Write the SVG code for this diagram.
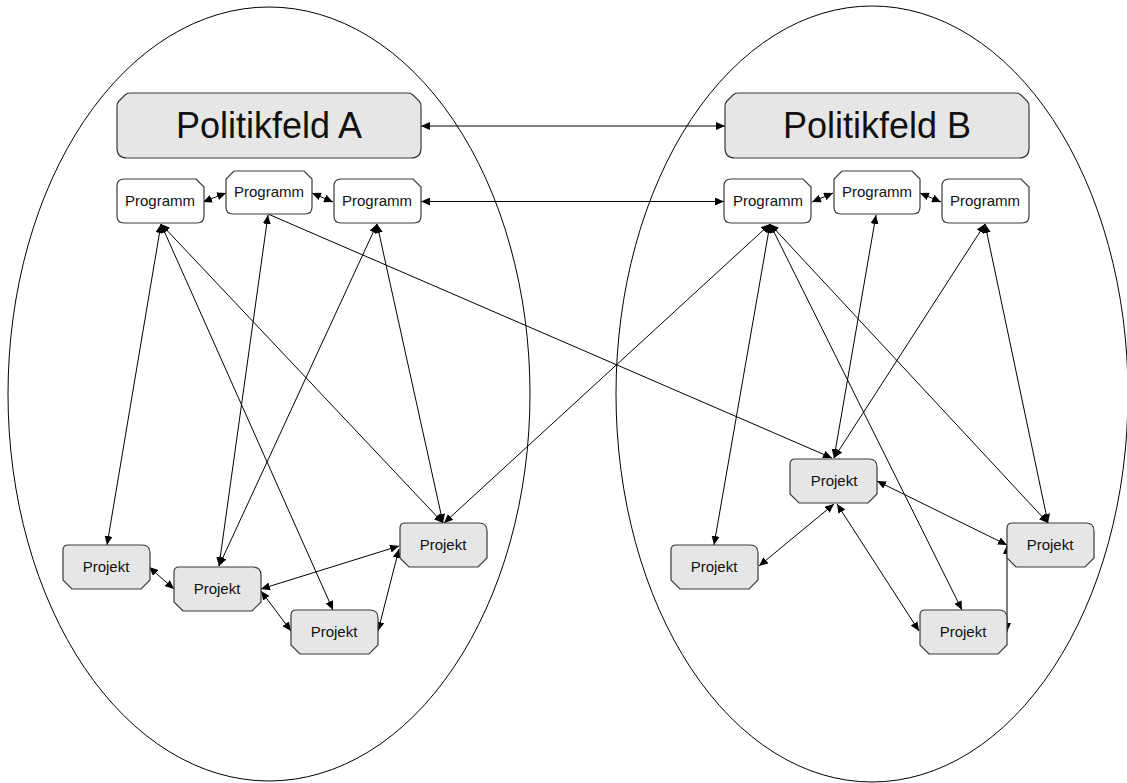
<svg xmlns="http://www.w3.org/2000/svg" width="1127" height="783" viewBox="0 0 1127 783">
  <style>
    .field { fill: none; stroke: #000; stroke-width: 1; }
    .box { stroke: #3a3a3a; stroke-width: 1.2; }
    .grey { fill: #e6e6e6; }
    .white { fill: #ffffff; }
    .big { font-family: "Liberation Sans", Arial, sans-serif; font-size: 36px; fill: #111; text-anchor: middle; }
    .small { font-family: "Liberation Sans", Arial, sans-serif; font-size: 15px; fill: #111; text-anchor: middle; }
    .link { stroke: #000; stroke-width: 1; fill: none; }
    .both { marker-start: url(#head); marker-end: url(#head); }
    .one { marker-end: url(#head); }
  </style>
  <defs>
    <marker id="head" viewBox="0 0 9 8" refX="9" refY="4" markerWidth="9" markerHeight="8" markerUnits="userSpaceOnUse" orient="auto-start-reverse">
      <path d="M0,0 L9,4 L0,8 Z" fill="#000"/>
    </marker>
    <!-- box outlines, drawn at the origin and moved into place -->
    <path id="field-shape" d="M13,0 H291 Q294,0 296,2 L302,8 Q304,10 304,13 V55 Q304,65 294,65 H10 Q0,65 0,55 V13 Q0,10 2,8 L8,2 Q10,0 13,0 Z"/>
    <path id="prog-shape" d="M7,0 H79 L87,8 V37 Q87,44 80,44 H7 Q0,44 0,37 V7 Q0,0 7,0 Z"/>
    <path id="prog-mid-shape" d="M8,0 H78 L86,8 V36 Q86,43 79,43 H7 Q0,43 0,36 V8 Z"/>
    <path id="proj-shape" d="M5,0 H79 Q87,0 87,8 V35 L78,44 H9 L0,35 V5 Q0,0 5,0 Z"/>
  </defs>

  <!-- the two policy fields -->
  <g id="field-a-outline"><ellipse class="field" cx="269" cy="394" rx="261" ry="387"/></g>
  <g id="field-b-outline"><ellipse class="field" cx="872" cy="394" rx="256" ry="388"/></g>

  <!-- connectors -->
  <g id="connectors">
    <line class="link both" x1="421" y1="126" x2="725" y2="126"/>
    <line class="link both" x1="421" y1="201.5" x2="724" y2="201.5"/>
    <line class="link both" x1="203" y1="202" x2="226" y2="193"/>
    <line class="link both" x1="312" y1="193" x2="333" y2="202"/>
    <line class="link both" x1="812" y1="202" x2="833" y2="193"/>
    <line class="link both" x1="920" y1="193" x2="941" y2="202"/>

    <line class="link both" x1="161" y1="224" x2="107" y2="545"/>
    <line class="link both" x1="161" y1="224" x2="333" y2="610"/>
    <line class="link both" x1="161" y1="224" x2="443" y2="523"/>
    <line class="link both" x1="268" y1="215" x2="219" y2="566"/>
    <line class="link one" x1="268" y1="214" x2="832" y2="458"/>
    <line class="link both" x1="377" y1="224" x2="219" y2="566"/>
    <line class="link both" x1="377" y1="224" x2="443" y2="523"/>

    <line class="link both" x1="770" y1="224" x2="444" y2="523"/>
    <line class="link both" x1="770" y1="224" x2="714" y2="545"/>
    <line class="link both" x1="770" y1="224" x2="962" y2="610"/>
    <line class="link both" x1="770" y1="224" x2="1048" y2="523"/>
    <line class="link both" x1="876" y1="215" x2="834" y2="458"/>
    <line class="link both" x1="985" y1="224" x2="834" y2="458"/>
    <line class="link both" x1="985" y1="224" x2="1048" y2="523"/>

    <line class="link both" x1="149" y1="567" x2="174" y2="589"/>
    <line class="link both" x1="261" y1="589" x2="399" y2="546"/>
    <line class="link both" x1="261" y1="591" x2="291" y2="631"/>
    <line class="link both" x1="399" y1="549" x2="378" y2="631"/>

    <line class="link both" x1="834" y1="504" x2="759" y2="566"/>
    <line class="link both" x1="837" y1="504" x2="919" y2="631"/>
    <line class="link both" x1="877" y1="481" x2="1007" y2="545"/>
    <line class="link both" x1="1007" y1="545" x2="1007" y2="632"/>
  </g>

  <!-- Politikfeld A -->
  <g id="politikfeld-a">
    <use href="#field-shape" class="box grey" x="117" y="93"/>
    <text class="big" x="269" y="138">Politikfeld A</text>
  </g>
  <g id="programm-a1">
    <use href="#prog-shape" class="box white" x="117" y="179"/>
    <text class="small" x="160" y="206">Programm</text>
  </g>
  <g id="programm-a2">
    <use href="#prog-mid-shape" class="box white" x="226" y="171"/>
    <text class="small" x="269" y="197">Programm</text>
  </g>
  <g id="programm-a3">
    <use href="#prog-shape" class="box white" x="334" y="179"/>
    <text class="small" x="377" y="206">Programm</text>
  </g>
  <g id="projekt-a1">
    <use href="#proj-shape" class="box grey" x="63" y="545"/>
    <text class="small" x="106" y="572">Projekt</text>
  </g>
  <g id="projekt-a2">
    <use href="#proj-shape" class="box grey" x="174" y="567"/>
    <text class="small" x="217" y="594">Projekt</text>
  </g>
  <g id="projekt-a3">
    <use href="#proj-shape" class="box grey" x="400" y="523"/>
    <text class="small" x="443" y="550">Projekt</text>
  </g>
  <g id="projekt-a4">
    <use href="#proj-shape" class="box grey" x="291" y="610"/>
    <text class="small" x="334" y="637">Projekt</text>
  </g>

  <!-- Politikfeld B -->
  <g id="politikfeld-b">
    <use href="#field-shape" class="box grey" x="725" y="93"/>
    <text class="big" x="877" y="138">Politikfeld B</text>
  </g>
  <g id="programm-b1">
    <use href="#prog-shape" class="box white" x="724" y="179"/>
    <text class="small" x="768" y="206">Programm</text>
  </g>
  <g id="programm-b2">
    <use href="#prog-mid-shape" class="box white" x="834" y="171"/>
    <text class="small" x="877" y="197">Programm</text>
  </g>
  <g id="programm-b3">
    <use href="#prog-shape" class="box white" x="942" y="179"/>
    <text class="small" x="985" y="206">Programm</text>
  </g>
  <g id="projekt-b1">
    <use href="#proj-shape" class="box grey" x="790" y="459"/>
    <text class="small" x="834" y="486">Projekt</text>
  </g>
  <g id="projekt-b2">
    <use href="#proj-shape" class="box grey" x="671" y="545"/>
    <text class="small" x="714" y="572">Projekt</text>
  </g>
  <g id="projekt-b3">
    <use href="#proj-shape" class="box grey" x="1007" y="523"/>
    <text class="small" x="1050" y="550">Projekt</text>
  </g>
  <g id="projekt-b4">
    <use href="#proj-shape" class="box grey" x="920" y="610"/>
    <text class="small" x="963" y="637">Projekt</text>
  </g>
</svg>
